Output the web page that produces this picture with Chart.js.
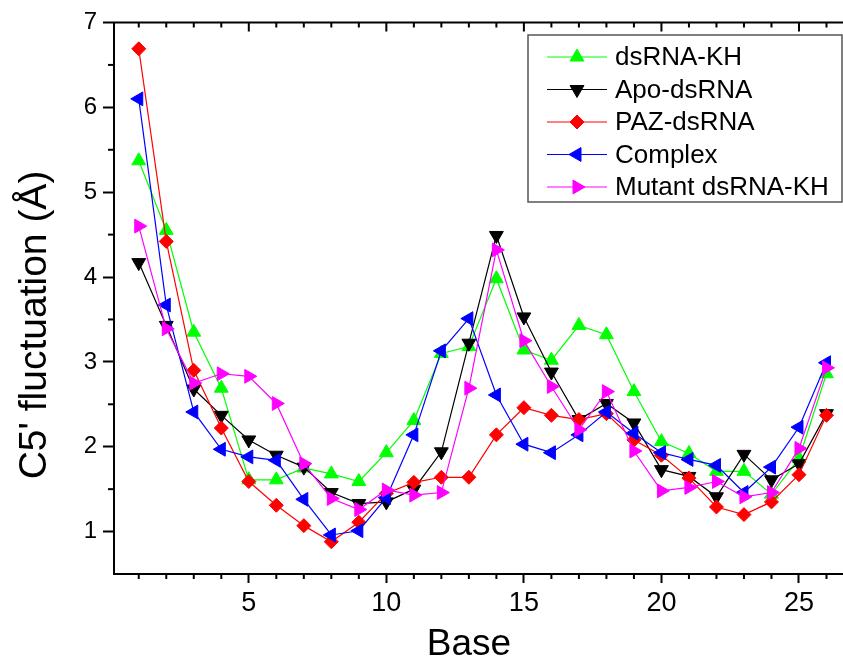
<!DOCTYPE html>
<html>
<head>
<meta charset="utf-8">
<script src="https://cdn.jsdelivr.net/npm/chart.js@4.4.1/dist/chart.umd.min.js"></script>
<style>
    html, body { margin: 0; padding: 0; background: #fff; overflow: hidden; }
    #wrap { width: 870px; height: 659px; }
</style>
</head>
<body>
<div id="wrap"><canvas id="fluctChart" width="870" height="659"></canvas></div>
<script>
const bases = [1, 2, 3, 4, 5, 6, 7, 8, 9, 10, 11, 12, 13, 14, 15, 16, 17, 18, 19, 20, 21, 22, 23, 24, 25, 26];

const dsrnaKH = [5.37, 4.55, 3.35, 2.69, 1.61, 1.61, 1.75, 1.68, 1.59, 1.93, 2.31, 3.10, 3.18, 3.98, 3.14, 3.02, 3.43, 3.32, 2.65, 2.06, 1.92, 1.71, 1.71, 1.44, 1.86, 2.86];
const apoDsrna = [4.17, 3.43, 2.68, 2.37, 2.08, 1.90, 1.76, 1.46, 1.33, 1.35, 1.50, 1.94, 3.22, 4.49, 3.53, 2.88, 2.32, 2.51, 2.28, 1.73, 1.65, 1.41, 1.91, 1.61, 1.80, 2.39];
const pazDsrna = [6.69, 4.42, 2.90, 2.22, 1.59, 1.31, 1.07, 0.88, 1.11, 1.45, 1.58, 1.64, 1.64, 2.14, 2.46, 2.37, 2.32, 2.39, 2.08, 1.90, 1.63, 1.29, 1.20, 1.35, 1.67, 2.37];
const complexVals = [6.10, 3.67, 2.41, 1.97, 1.88, 1.84, 1.38, 0.96, 1.01, 1.40, 2.14, 3.13, 3.51, 2.61, 2.03, 1.93, 2.14, 2.41, 2.16, 1.93, 1.85, 1.78, 1.46, 1.76, 2.23, 2.99];
const mutantKH = [4.60, 3.39, 2.75, 2.86, 2.83, 2.51, 1.80, 1.39, 1.26, 1.49, 1.43, 1.46, 2.69, 4.32, 3.25, 2.71, 2.20, 2.65, 1.95, 1.48, 1.52, 1.59, 1.41, 1.46, 1.98, 2.93];

const seriesNames = ['dsRNA-KH', 'Apo-dsRNA', 'PAZ-dsRNA', 'Complex', 'Mutant dsRNA-KH'];
const xTicks = [5, 10, 15, 20, 25];
const yTicks = [1, 2, 3, 4, 5, 6, 7];

const FONT = '"Liberation Sans", Arial, sans-serif';

const styles = [
    { color: '#00ff00', pointStyle: 'triangle', rotation: 0, radius: 8 },
    { color: '#000000', pointStyle: 'triangle', rotation: 180, radius: 8 },
    { color: '#ff0000', pointStyle: 'rectRot', rotation: 0, radius: 7 },
    { color: '#0000ff', pointStyle: 'triangle', rotation: 270, radius: 8 },
    { color: '#ff00ff', pointStyle: 'triangle', rotation: 90, radius: 8 }
];

const values = [dsrnaKH, apoDsrna, pazDsrna, complexVals, mutantKH];

const datasets = values.map((vals, i) => ({
    label: seriesNames[i],
    data: bases.map((b, j) => ({ x: b, y: vals[j] })),
    borderColor: styles[i].color,
    backgroundColor: styles[i].color,
    borderWidth: 1.2,
    pointStyle: styles[i].pointStyle,
    pointRotation: styles[i].rotation,
    pointRadius: styles[i].radius,
    pointBorderWidth: 1,
    tension: 0,
    order: values.length - 1 - i
}));

// minor ticks, mirrored top axis, axis titles
const framePlugin = {
    id: 'frame',
    afterDraw(chart) {
        const ctx = chart.ctx;
        const area = chart.chartArea;
        const xs = chart.scales.x;
        const ys = chart.scales.y;
        ctx.save();
        ctx.strokeStyle = '#000';
        ctx.lineWidth = 2;

        ctx.beginPath();
        ctx.moveTo(area.left - 1, area.top);
        ctx.lineTo(area.right + 1, area.top);
        ctx.stroke();

        for (let b = 1; b <= 27; b++) {
            const px = xs.getPixelForValue(b);
            const major = b % 5 === 0;
            ctx.beginPath();
            ctx.moveTo(px, area.top);
            ctx.lineTo(px, area.top + (major ? 9 : 5));
            if (!major) {
                ctx.moveTo(px, area.bottom);
                ctx.lineTo(px, area.bottom + 5);
            }
            ctx.stroke();
        }

        for (let v = 1.5; v < 7; v += 1) {
            const py = ys.getPixelForValue(v);
            ctx.beginPath();
            ctx.moveTo(area.left, py);
            ctx.lineTo(area.left - 6, py);
            ctx.stroke();
        }

        ctx.fillStyle = '#000';
        ctx.font = '37px ' + FONT;
        ctx.textAlign = 'center';
        ctx.textBaseline = 'alphabetic';
        ctx.fillText('Base', 469, 655);

        ctx.translate(46, 325);
        ctx.rotate(-Math.PI / 2);
        ctx.font = '39px ' + FONT;
        ctx.fillText('C5\' fluctuation (Å)', 0, 0);
        ctx.restore();
    }
};

// legend box inside the plot, line sample + marker like the original
const legendPlugin = {
    id: 'boxLegend',
    afterDraw(chart) {
        const ctx = chart.ctx;
        const left = 528, top = 35, width = 314, height = 167;
        const rowStart = 57, rowStep = 32.5;
        ctx.save();
        ctx.fillStyle = '#fff';
        ctx.fillRect(left, top, width, height);
        ctx.strokeStyle = '#555';
        ctx.lineWidth = 1.5;
        ctx.strokeRect(left, top, width, height);

        ctx.font = '26px ' + FONT;
        ctx.textBaseline = 'middle';
        ctx.textAlign = 'left';
        chart.data.datasets.forEach((ds, i) => {
            const y = rowStart + i * rowStep;
            ctx.strokeStyle = ds.borderColor;
            ctx.lineWidth = 1.2;
            ctx.beginPath();
            ctx.moveTo(547, y);
            ctx.lineTo(607, y);
            ctx.stroke();
            ctx.fillStyle = ds.backgroundColor;
            ctx.lineWidth = 1;
            Chart.helpers.drawPoint(ctx, {
                pointStyle: ds.pointStyle,
                rotation: ds.pointRotation,
                radius: ds.pointRadius,
                borderWidth: 1
            }, 577, y);
            ctx.fillStyle = '#000';
            ctx.fillText(ds.label, 615, y + 1);
        });
        ctx.restore();
    }
};

const canvas = document.getElementById('fluctChart');
new Chart(canvas.getContext('2d'), {
    type: 'line',
    data: { datasets },
    plugins: [framePlugin, legendPlugin],
    options: {
        responsive: false,
        animation: false,
        devicePixelRatio: 1,
        layout: { padding: { top: 22.5, right: 16, left: 0, bottom: 0 } },
        plugins: {
            legend: { display: false },
            tooltip: { enabled: false }
        },
        scales: {
            x: {
                type: 'linear',
                min: 0.1,
                max: 27,
                afterBuildTicks: s => { s.ticks = xTicks.map(v => ({ value: v })); },
                afterFit: s => { s.height = 85; },
                ticks: {
                    color: '#000',
                    font: { family: FONT, size: 27 },
                    padding: 4,
                    maxRotation: 0,
                    autoSkip: false
                },
                grid: {
                    drawOnChartArea: false,
                    tickLength: 9,
                    tickWidth: 2,
                    tickColor: '#000'
                },
                border: { color: '#000', width: 2 }
            },
            y: {
                type: 'linear',
                min: 0.5,
                max: 7,
                afterBuildTicks: s => { s.ticks = yTicks.map(v => ({ value: v })); },
                afterFit: s => { s.width = 114; },
                ticks: {
                    color: '#000',
                    font: { family: FONT, size: 24 },
                    padding: 6
                },
                grid: {
                    drawOnChartArea: false,
                    tickLength: 11,
                    tickWidth: 2,
                    tickColor: '#000'
                },
                border: { color: '#000', width: 2 }
            }
        }
    }
});
</script>
</body>
</html>
